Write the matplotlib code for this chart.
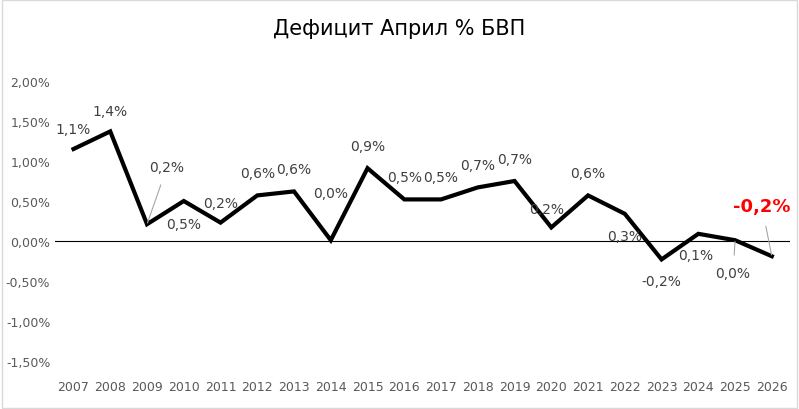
import matplotlib.pyplot as plt
from matplotlib.ticker import FuncFormatter

years = [str(y) for y in range(2007, 2027)]
deficit = [1.15, 1.37, 0.21, 0.50, 0.23, 0.57, 0.62, 0.01, 0.91, 0.52,
           0.52, 0.67, 0.75, 0.17, 0.57, 0.34, -0.23, 0.09, 0.01, -0.19]
labels = ["1,1%", "1,4%", "0,2%", "0,5%", "0,2%", "0,6%", "0,6%", "0,0%", "0,9%", "0,5%",
          "0,5%", "0,7%", "0,7%", "0,2%", "0,6%", "0,3%", "-0,2%", "0,1%", "0,0%", "-0,2%"]
# label offsets in pixels (dx, dy; positive dy = up)
offsets = [(0, 20), (0, 20), (20, 57), (0, -23), (0, 20), (0, 22), (0, 22), (0, 47), (0, 22), (0, 22),
           (0, 22), (0, 22), (0, 22), (-5, 18), (0, 22), (0, -22), (0, -22), (-3, -21), (-2, -33), (-10, 50)]
leaders = {2, 18, 19}

fig = plt.figure(figsize=(7.99, 4.10), dpi=100)
ax = fig.add_axes([0.069, 0.117, 0.92, 0.683])
x = range(len(years))
ax.plot(x, deficit, color="black", linewidth=3, solid_joinstyle="miter")
ax.axhline(0, color="black", linewidth=0.8)

for i, (val, lab, (dx, dy)) in enumerate(zip(deficit, labels, offsets)):
    last = i == len(years) - 1
    ax.annotate(lab, (i, val), xytext=(dx * 0.72, dy * 0.72), textcoords="offset points",
                ha="center", va="center", fontsize=13 if last else 10,
                color="#ff0000" if last else "#404040", fontweight="bold" if last else "normal",
                arrowprops=dict(arrowstyle="-", color="#a6a6a6", lw=0.8, shrinkA=6, shrinkB=1)
                if i in leaders else None)

ax.set_xlim(-0.5, len(years) - 0.5)
ax.set_ylim(-1.5, 2.0)
ax.set_yticks([-1.5, -1.0, -0.5, 0, 0.5, 1.0, 1.5, 2.0])
ax.yaxis.set_major_formatter(FuncFormatter(lambda v, _: f"{v:.2f}%".replace(".", ",")))
ax.set_xticks(list(x))
ax.set_xticklabels(years)
ax.tick_params(length=0, labelsize=9, colors="#595959")
ax.tick_params(axis="x", pad=14)
for s in ax.spines.values():
    s.set_visible(False)

fig.text(0.5, 0.93, "Дефицит Април % БВП", ha="center", va="center", fontsize=15, color="black")
fig.patches.append(plt.Rectangle((0.002, 0.002), 0.996, 0.996, transform=fig.transFigure,
                                 fill=False, edgecolor="#d9d9d9", linewidth=1))
fig.savefig("out.png", dpi=100)
